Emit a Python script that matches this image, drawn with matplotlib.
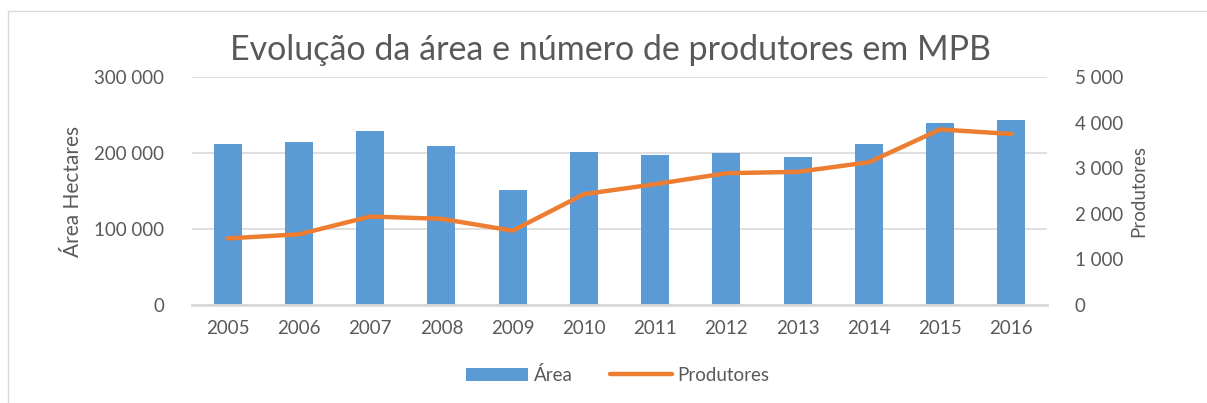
import numpy as np
import matplotlib
matplotlib.use("Agg")
from matplotlib import pyplot as plt
from matplotlib.patches import Rectangle
from matplotlib.ticker import FuncFormatter

# values
anos = ['2005', '2006', '2007', '2008', '2009', '2010',
        '2011', '2012', '2013', '2014', '2015', '2016']
area = [211500, 214000, 229300, 208800, 151300, 201300,
        197400, 200400, 195100, 211800, 239500, 243800]
produtores = [1460, 1550, 1940, 1890, 1630, 2430,
              2650, 2890, 2920, 3130, 3850, 3750]

plt.rcParams['font.family'] = ['Lato', 'DejaVu Sans']
texto = '#595959'
grade = '#d9d9d9'


def milhares(v, pos):
    return '{:,.0f}'.format(v).replace(',', ' ')


fig = plt.figure(figsize=(12.07, 4.03), dpi=100)
# thin frame around the chart area
fig.patches.append(Rectangle((8 / 1207, -0.1), 1.2, 1 - 11 / 403 + 0.1,
                             transform=fig.transFigure, fill=False,
                             edgecolor=grade, lw=1.0))

ax = fig.add_axes([192 / 1207, 1 - 305 / 403, 855 / 1207, 228 / 403])
x = np.arange(len(anos))
ax.bar(x, area, width=0.39, color='#5b9bd5', label='Área', zorder=2)
ax.set_ylim(0, 300000)
ax.set_yticks([0, 100000, 200000, 300000])
ax.yaxis.set_major_formatter(FuncFormatter(milhares))
ax.set_xlim(-0.5, len(anos) - 0.5)
ax.set_xticks(x)
ax.set_xticklabels(anos)
ax.grid(axis='y', color=grade, lw=1.2, zorder=0)
for s in ['top', 'right', 'left']:
    ax.spines[s].set_visible(False)
ax.spines['bottom'].set_color(grade)
ax.spines['bottom'].set_linewidth(2)
ax.tick_params(axis='both', length=0, colors=texto, labelsize=13.5)
ax.tick_params(axis='y', pad=20)
ax.tick_params(axis='x', pad=11)
ax.set_ylabel('Área Hectares', color=texto, fontsize=15, labelpad=8)

ax2 = ax.twinx()
ax2.plot(x, produtores, color='#ed7d31', lw=3.2, label='Produtores',
         solid_capstyle='round', zorder=3)
ax2.set_ylim(0, 5000)
ax2.set_yticks(np.arange(0, 5001, 1000))
ax2.yaxis.set_major_formatter(FuncFormatter(milhares))
for s in ax2.spines.values():
    s.set_visible(False)
ax2.tick_params(axis='y', length=0, colors=texto, labelsize=13.5, pad=20)
ax2.set_ylabel('Produtores', color=texto, fontsize=13.5, labelpad=5)

fig.text(0.5 * (222 + 1000) / 1207, 1 - 50 / 403,
         'Evolução da área e número de produtores em MPB',
         ha='center', va='center', fontsize=24.5, color=texto)

h1, l1 = ax.get_legend_handles_labels()
h2, l2 = ax2.get_legend_handles_labels()
fig.legend(h1 + h2, l1 + l2, loc='center', ncol=2, frameon=False,
           bbox_to_anchor=(618 / 1207, 1 - 375 / 403), fontsize=13.5,
           labelcolor=texto, handlelength=3.3, handletextpad=0.3,
           columnspacing=2.0)

plt.savefig('out.png', dpi=100)
